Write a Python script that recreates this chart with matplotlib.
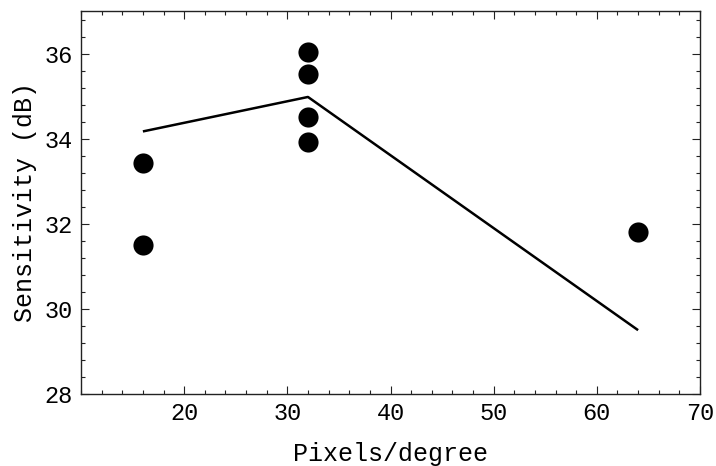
import numpy as np
import matplotlib
matplotlib.use('Agg')
import matplotlib.pyplot as plt
from matplotlib.ticker import MultipleLocator

# measured sensitivities (dots)
pts_x = [16, 16, 32, 32, 32, 32, 64]
pts_y = [33.43, 31.50, 36.03, 35.53, 34.52, 33.92, 31.80]

# fitted curve (line)
fit_x = [16, 32, 64]
fit_y = [34.17, 34.98, 29.50]

plt.rcParams['font.family'] = ['Liberation Mono', 'DejaVu Sans Mono']

fig = plt.figure(figsize=(7.16, 4.66), dpi=100)
ax = fig.add_axes([81 / 716, 1 - 394 / 466, 619 / 716, 383 / 466])

ax.plot(fit_x, fit_y, color='black', lw=1.8, solid_capstyle='butt')
ax.plot(pts_x, pts_y, 'o', color='black', ms=14.5, mec='none')

ax.set_xlim(10, 70)
ax.set_ylim(28, 37)
ax.xaxis.set_minor_locator(MultipleLocator(2))
ax.yaxis.set_minor_locator(MultipleLocator(0.4))
ax.set_xticks([20, 30, 40, 50, 60, 70])
ax.set_yticks([28, 30, 32, 34, 36])

ax.tick_params(which='both', direction='in', top=True, right=True,
               labeltop=False, labelright=False, labelsize=17, width=0.8,
               color='#222222')
ax.tick_params(which='major', length=6, pad=6)
ax.tick_params(which='minor', length=3)
for s in ax.spines.values():
    s.set_linewidth(1.0)
    s.set_color('#222222')

ax.set_xlabel('Pixels/degree', fontsize=18, labelpad=12)
ax.set_ylabel('Sensitivity (dB)', fontsize=18, labelpad=5)

fig.savefig('out.png', dpi=100)
